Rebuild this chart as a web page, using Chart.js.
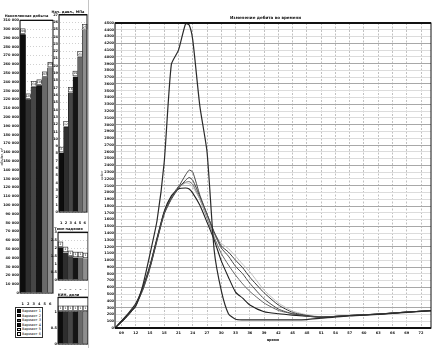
<!DOCTYPE html>
<html>
<head>
<meta charset="utf-8">
<script src="https://cdn.jsdelivr.net/npm/chart.js@4.4.0/dist/chart.umd.min.js"></script>
<style>
  html, body { margin: 0; padding: 0; background: #fff; width: 432px; height: 348px; overflow: hidden; position: relative; font-family: "DejaVu Sans", sans-serif; }
  canvas { position: absolute; }
  #sep { position: absolute; left: 88px; top: 0; width: 1px; height: 348px; background: #c4c4c4; }
  #legend { position: absolute; left: 15px; top: 307px; width: 28px; height: 31px; border: 1px solid #333; background: #fff; box-sizing: border-box; padding: 1px 1px; }
  #legend div { height: 4.6px; font-size: 3.5px; line-height: 4.6px; white-space: nowrap; color: #111; }
  #legend span { display: inline-block; width: 4px; height: 3.4px; border: 0.5px solid #000; margin-right: 1px; vertical-align: middle; box-sizing: border-box; }
</style>
</head>
<body>
<canvas id="c1" width="56" height="304" style="left:0;top:4px"></canvas>
<canvas id="c2" width="40" height="218" style="left:49px;top:6px"></canvas>
<canvas id="c3" width="40" height="66" style="left:49px;top:224px"></canvas>
<canvas id="c4" width="40" height="70" style="left:49px;top:290px"></canvas>
<div id="sep"></div>
<canvas id="c5" width="332" height="348" style="left:100px;top:0"></canvas>
<div id="legend"></div>
<script>
// варианты расчёта
const variants = ["Вариант 1", "Вариант 2", "Вариант 3", "Вариант 4", "Вариант 5", "Вариант 6"];
const barLabels = ["1", "2", "3", "4", "5", "6"];
const barColors = ["#0d0d0d", "#2e2e2e", "#464646", "#151515", "#6a6a6a", "#8e8e8e"];
const legendColors = ["#0d0d0d", "#2e2e2e", "#5a5a5a", "#151515", "#ffffff", "#f4f4f4"];

// накопленная добыча, тыс. м3
const cumVolume = [294, 220, 234, 236, 245, 256];
// начальное давление, МПа
const startPressure = [8.1, 11.6, 16.3, 18.5, 21.2, 24.9];
// темп падения
const declineRate = [2.04, 1.72, 1.47, 1.4, 1.4, 1.34];
// КИН
const recovery = [1.0, 1.0, 1.0, 1.0, 1.0, 1.0];

// время (шаг сетки) и дебит по вариантам
const timeSteps = [-0.45, 0, 0.5, 1, 1.5, 2, 2.5, 3, 3.5, 4, 4.5, 4.75, 5, 5.5, 6, 6.5, 7, 7.5, 8, 8.5, 9, 10, 11, 12, 13, 14, 16, 18, 20, 22];
const rate1 = [0, 100, 210, 320, 630, 1090, 1590, 2450, 3890, 4100, 4490, 4470, 4250, 3270, 2600, 1150, 550, 210, 130, 120, 120, 120, 120, 120, 125, 145, 180, 200, 230, 260];
const rate2 = [0, 90, 210, 350, 580, 900, 1310, 1700, 1920, 2080, 2260, 2330, 2300, 1960, 1680, 1400, 1180, 1060, 910, 800, 660, 430, 280, 210, 175, 160, 185, 205, 235, 260];
const rate3 = [0, 80, 190, 330, 560, 880, 1290, 1680, 1900, 2060, 2180, 2220, 2180, 1940, 1680, 1420, 1210, 1120, 1000, 890, 750, 520, 340, 230, 185, 160, 185, 205, 235, 260];
const rate4 = [0, 100, 220, 360, 600, 920, 1330, 1720, 1950, 2050, 2065, 2050, 1990, 1810, 1560, 1300, 990, 750, 530, 440, 340, 240, 210, 190, 175, 160, 185, 205, 235, 260];
const rate5 = [0, 90, 200, 340, 570, 890, 1300, 1690, 1910, 2070, 2140, 2130, 2080, 1900, 1640, 1400, 1250, 1170, 1060, 940, 830, 560, 370, 250, 195, 165, 185, 205, 235, 260];
const rate6 = [0, 100, 210, 350, 590, 910, 1320, 1710, 1930, 2090, 2150, 2160, 2120, 1900, 1620, 1340, 1100, 930, 780, 650, 540, 370, 260, 210, 180, 160, 185, 205, 235, 260];
const timeLabels = ["09", "12", "15", "18", "21", "24", "27", "30", "33", "36", "39", "42", "45", "48", "51", "54", "57", "60", "63", "66", "69", "72"];

Chart.defaults.font.family = "DejaVu Sans";
Chart.defaults.font.size = 4;
Chart.defaults.color = "#111";
Chart.defaults.animation = false;

// легенда
const legendBox = document.getElementById("legend");
variants.forEach((name, i) => {
  const row = document.createElement("div");
  row.innerHTML = '<span style="background:' + legendColors[i] + '"></span>' + name;
  legendBox.appendChild(row);
});

// рамка области построения
const framePlugin = {
  id: "frame",
  afterDraw(chart, args, opts) {
    const ctx = chart.ctx;
    const a = chart.chartArea;
    ctx.save();
    ctx.strokeStyle = "#111";
    ctx.lineWidth = opts.width || 1;
    ctx.strokeRect(a.left, a.top, a.right - a.left, a.bottom - a.top);
    if (opts.top) {
      ctx.lineWidth = opts.top;
      ctx.beginPath();
      ctx.moveTo(a.left, a.top);
      ctx.lineTo(a.right, a.top);
      ctx.stroke();
    }
    if (opts.bottom) {
      ctx.lineWidth = opts.bottom;
      ctx.beginPath();
      ctx.moveTo(a.left, a.bottom);
      ctx.lineTo(a.right, a.bottom);
      ctx.stroke();
    }
    ctx.restore();
  }
};

// подписи значений над столбцами
const valueLabels = {
  id: "valueLabels",
  afterDatasetsDraw(chart, args, opts) {
    if (!opts.show) return;
    const ctx = chart.ctx;
    const meta = chart.getDatasetMeta(0);
    const data = chart.data.datasets[0].data;
    ctx.save();
    ctx.font = "3px DejaVu Sans";
    ctx.textAlign = "center";
    ctx.textBaseline = "middle";
    meta.data.forEach((bar, i) => {
      const w = 4.6, h = 4.6;
      const x = bar.x - w / 2, y = bar.y - h - 1;
      ctx.fillStyle = "#fff";
      ctx.fillRect(x, y, w, h);
      ctx.strokeStyle = "#222";
      ctx.lineWidth = 0.6;
      ctx.strokeRect(x, y, w, h);
      ctx.fillStyle = "#111";
      ctx.fillText(String(Math.round(data[i])), bar.x, y + h / 2);
    });
    ctx.restore();
  }
};

function barChart(id, title, values, cfg) {
  return new Chart(document.getElementById(id), {
    type: "bar",
    data: {
      labels: barLabels,
      datasets: [{
        label: title,
        data: values,
        backgroundColor: barColors,
        borderColor: "#000",
        borderWidth: 0.4,
        barPercentage: 1,
        categoryPercentage: 1
      }]
    },
    options: {
      responsive: false,
      layout: { padding: { right: cfg.right, left: 0, top: 0, bottom: 0 } },
      plugins: {
        legend: { display: false },
        tooltip: { enabled: false },
        title: {
          display: true,
          text: title,
          font: { size: 3.5, weight: "bold" },
          padding: { top: cfg.titleTop, bottom: cfg.titleBottom }
        },
        frame: { width: 1, top: 1.4 },
        valueLabels: { show: true }
      },
      scales: {
        x: {
          grid: { display: false },
          ticks: { padding: 1, autoSkip: false, maxRotation: 0, minRotation: 0, font: { size: 3.5, weight: "bold" } },
          afterFit(s) { s.height = cfg.xh; }
        },
        y: {
          min: 0,
          max: cfg.max,
          grid: { color: "#d0d0d0", drawTicks: false },
          border: { dash: [1, 2] },
          ticks: {
            stepSize: cfg.step,
            autoSkip: false,
            padding: 1,
            font: { size: 3.5, weight: "bold" },
            callback: cfg.fmt
          },
          title: cfg.ytitle ? { display: true, text: cfg.ytitle, padding: 0, font: { size: 3.5 } } : { display: false },
          afterFit(s) { s.width = cfg.yw; }
        }
      }
    },
    plugins: [framePlugin, valueLabels]
  });
}

barChart("c1", "Накопленная добыча", cumVolume, {
  max: 310, step: 10, yw: 20, xh: 15, right: 3, titleTop: 10, titleBottom: 2.2,
  ytitle: "объём, м³",
  fmt: (v) => (v === 0 ? "0" : v + " 000")
});
barChart("c2", "Нач. давл., МПа", startPressure, {
  max: 27, step: 1, yw: 10, xh: 12, right: 2, titleTop: 4, titleBottom: 0.5,
  fmt: (v) => String(v)
});
barChart("c3", "Темп падения", declineRate, {
  max: 3, step: 0.5, yw: 9, xh: 10, right: 1, titleTop: 2.6, titleBottom: 1.6,
  fmt: (v) => (Math.round(v * 2) === v * 2 ? String(v) : "")
});
barChart("c4", "КИН, доли", recovery, {
  max: 1.44, step: 0.5, yw: 9, xh: 16, right: 1, titleTop: 2.6, titleBottom: 0.6,
  fmt: (v) => (Math.round(v * 2) === v * 2 ? String(v) : "")
});

// изменение дебита во времени
const rates = [rate1, rate2, rate3, rate4, rate5, rate6];
const lineColors = ["#2a2a2a", "#4a4a4a", "#3a3a3a", "#1e1e1e", "#b8b8b8", "#666666"];
const lineWidths = [1.2, 1.0, 1.0, 1.1, 0.9, 1.0];

new Chart(document.getElementById("c5"), {
  type: "line",
  data: {
    datasets: rates.map((r, k) => ({
      label: variants[k],
      data: timeSteps.map((t, i) => ({ x: t, y: r[i] })),
      borderColor: lineColors[k],
      borderWidth: lineWidths[k],
      pointRadius: 0,
      tension: 0.2,
      fill: false
    }))
  },
  options: {
    responsive: false,
    layout: { padding: { right: 1, left: 0, top: 0, bottom: 6 } },
    plugins: {
      legend: { display: false },
      tooltip: { enabled: false },
      title: {
        display: true,
        text: "Изменение дебита во времени",
        font: { size: 4, weight: "bold" },
        padding: { top: 15.6, bottom: 2.6 }
      },
      frame: { width: 1, top: 2, bottom: 2 }
    },
    scales: {
      x: {
        type: "linear",
        min: -0.45,
        max: 21.7,
        grid: { color: "#c0c0c0", drawTicks: false },
        border: { dash: [2, 1.5] },
        ticks: {
          autoSkip: false,
          maxRotation: 0,
          padding: 3,
          font: { size: 3.5, weight: "bold" },
          callback: (v) => timeLabels[v] || ""
        },
        afterBuildTicks(s) { s.ticks = timeLabels.map((_, i) => ({ value: i })); },
        title: { display: true, text: "время", padding: 0, font: { size: 3.5, weight: "bold" } },
        afterFit(s) { s.height = 14; }
      },
      y: {
        min: 0,
        max: 4500,
        grid: {
          drawTicks: false,
          color: (c) => (c.index % 3 === 0 ? "#a8a8a8" : "#dcdcdc")
        },
        ticks: {
          stepSize: 100,
          autoSkip: false,
          padding: 1,
          font: { size: 3.5, weight: "bold" },
          callback: (v) => String(v)
        },
        title: { display: true, text: "дебит", padding: 0, font: { size: 3 } },
        afterFit(s) { s.width = 15; }
      }
    }
  },
  plugins: [framePlugin]
});
</script>
</body>
</html>
